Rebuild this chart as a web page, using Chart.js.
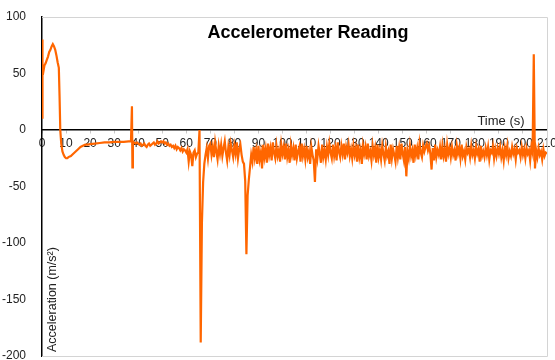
<!DOCTYPE html>
<html>
<head>
<meta charset="utf-8">
<script src="https://cdn.jsdelivr.net/npm/chart.js@4.4.1/dist/chart.umd.min.js"></script>
<style>
  html, body { margin: 0; padding: 0; background: #fff; }
  #wrap { width: 555px; height: 360px; }
</style>
</head>
<body>
<div id="wrap"><canvas id="chart" width="555" height="360"></canvas></div>
<script>
// start-up part of the recording, irregular times (s) and acceleration (m/s²)
const earlyTimes = [0, 0.1, 0.3, 0.6, 1, 1.5, 2, 2.5, 3, 3.5, 4, 4.5, 5, 5.5, 6, 6.5, 7, 7.3, 7.6, 8,
    8.5, 9, 9.5, 10, 10.5, 11, 12, 13, 14, 15, 16, 17, 18, 19, 20, 22, 24, 26, 28, 30,
    32, 34, 36, 37, 37.4, 37.6, 37.8, 38.2, 39, 39.5];
const earlyAccel = [11, 80, 54, 52, 57, 59, 62, 65, 69, 71, 74, 76, 74, 71, 66, 60, 55, 30, 0, -12,
    -19, -22, -24, -25, -25, -24, -23, -21, -19, -17, -15, -14, -13, -13, -12.5, -12, -11.5, -11, -11, -10.5,
    -10.5, -10.5, -10, -10, 21, -33, -10, -11, -12, -11];

// rest of the recording, one sample every 0.5 s from 40 s
const sampleStart = 40;
const sampleStep = 0.5;
const sampleAccel = [
    -12, -13, -12, -14, -13, -12, -14, -15, -13, -12, -14, -13, -12, -11, -13, -12, -10, -12, -11, -10,
    -11, -10, -12, -11, -13, -12, -14, -13, -15, -14, -16, -14, -17, -15, -16, -18, -16, -19, -17, -18,
    -20, -17, -28, -19, -22, -32, -20, -18, -24, -21, -20, 0, -188, -82, -46, -30, -22, -16, -25, -14,
    -12, -22, -15, -24, -11, -19, -26, -14, -21, -13, -23, -16, -10, -20, -27, -15, -22, -12, -18, -24,
    -14, -21, -11, -25, -17, -13, -22, -28, -30, -45, -110, -58, -44, -33, -22, -28, -15, -25, -18, -30,
    -14, -26, -20, -34, -13, -24, -17, -29, -12, -22, -16, -27, -11, -20, -25, -14, -23, -18, -28, -13,
    -21, -15, -26, -12, -24, -18, -29, -14, -22, -16, -27, -13, -25, -19, -15, -28, -12, -23, -17, -26,
    -14, -24, -19, -30, -15, -22, -27, -46, -17, -25, -14, -21, -29, -13, -24, -18, -26, -15, -22, -12,
    -20, -25, -13, -23, -16, -27, -11, -19, -24, -14, -21, -12, -26, -15, -20, -13, -23, -17, -25, -14,
    -22, -16, -28, -13, -24, -18, -30, -14, -21, -15, -26, -12, -23, -19, -27, -14, -22, -16, -29, -13,
    -24, -18, -26, -14, -21, -27, -15, -23, -19, -30, -13, -25, -17, -22, -28, -14, -24, -16, -26, -12,
    -21, -27, -15, -41, -19, -25, -14, -23, -18, -29, -13, -22, -16, -26, -12, -20, -24, -14, -19, -15,
    -12, -18, -14, -21, -35, -16, -27, -13, -24, -18, -22, -15, -26, -14, -23, -17, -28, -13, -21, -16,
    -24, -15, -22, -18, -27, -14, -21, -16, -25, -13, -23, -19, -26, -15, -20, -17, -24, -14, -22, -18,
    -25, -15, -21, -17, -28, -14, -23, -19, -24, -16, -22, -15, -26, -18, -20, -14, -25, -17, -23, -16,
    -21, -15, -24, -18, -27, -16, -22, -14, -25, -19, -23, -15, -21, -17, -26, -16, -20, -18, -24, -15,
    -22, -17, -25, -16, -21, -18, -27, -15, -20, 67, -34, -18, -24, -16, -22, -19, -26, -17, -23, -20,
    -21
];

const yTicks = [-200, -150, -100, -50, 0, 50, 100];
const xTicks = [0, 10, 20, 30, 40, 50, 60, 70, 80, 90, 100, 110, 120, 130, 140, 150, 160, 170, 180, 190, 200, 210];

const FONT = "'Liberation Sans', Arial, sans-serif";
// wanted plot area, in canvas pixels
const AREA = { left: 42, top: 17, right: 547, bottom: 356 };

function build_points() {
    const pts = earlyTimes.map((t, i) => ({ x: t, y: earlyAccel[i] }));
    sampleAccel.forEach((v, i) => pts.push({ x: sampleStart + i * sampleStep, y: v }));
    return pts;
}

// no label overflow padding, so the layout padding alone sets the plot area
function no_overflow(s) {
    s.paddingLeft = 0;
    s.paddingRight = 0;
    s.paddingTop = 0;
    s.paddingBottom = 0;
}

// frame lines and the free-standing labels, like the Excel plot area
const decorations = {
    id: 'decorations',
    beforeDatasetsDraw(chart) {
        const { ctx, chartArea: a } = chart;
        ctx.save();
        ctx.lineWidth = 1;
        ctx.strokeStyle = '#d4d4d4';
        ctx.beginPath();
        ctx.moveTo(a.left, a.top + 0.5);
        ctx.lineTo(a.right + 0.5, a.top + 0.5);
        ctx.lineTo(a.right + 0.5, a.bottom + 0.5);
        ctx.lineTo(a.left, a.bottom + 0.5);
        ctx.stroke();
        ctx.restore();
    },
    afterDraw(chart) {
        const { ctx } = chart;
        ctx.save();
        ctx.fillStyle = '#000';
        ctx.textAlign = 'center';
        ctx.textBaseline = 'middle';
        ctx.font = 'bold 18px ' + FONT;
        ctx.fillText('Accelerometer Reading', 308, 33);

        ctx.fillStyle = '#222';
        ctx.font = '13px ' + FONT;
        ctx.fillText('Time (s)', 501, 121);

        ctx.translate(53, 352);
        ctx.rotate(-Math.PI / 2);
        ctx.textAlign = 'left';
        ctx.font = '12.5px ' + FONT;
        ctx.fillText('Acceleration (m/s²)', 0, 0);
        ctx.restore();
    }
};

const chart = new Chart(document.getElementById('chart'), {
    type: 'line',
    data: {
        datasets: [{
            data: build_points(),
            borderColor: '#FF6600',
            borderWidth: 2.2,
            pointRadius: 0,
            tension: 0,
            fill: false
        }]
    },
    options: {
        responsive: false,
        animation: false,
        layout: { padding: { top: AREA.top, right: 555 - AREA.right, bottom: 360 - AREA.bottom, left: 0 } },
        plugins: { legend: { display: false }, tooltip: { enabled: false } },
        scales: {
            x: {
                type: 'linear',
                min: 0,
                max: 210,
                position: { y: 0 },
                afterBuildTicks: s => { s.ticks = xTicks.map(v => ({ value: v })); },
                afterFit: s => { s.height = 0; no_overflow(s); },
                ticks: { color: '#222', font: { family: FONT, size: 12 }, padding: 3, maxRotation: 0, autoSkip: false },
                grid: { drawOnChartArea: false, tickLength: 3, color: '#c8c8c8' },
                border: { color: '#000', width: 1.5 }
            },
            y: {
                min: -200,
                max: 100,
                afterBuildTicks: s => { s.ticks = yTicks.map(v => ({ value: v })); },
                afterFit: s => { s.width = AREA.left; no_overflow(s); },
                ticks: { color: '#222', font: { family: FONT, size: 12 }, padding: 8 },
                grid: { display: false },
                border: { color: '#000', width: 1.5 }
            }
        }
    },
    plugins: [decorations]
});

// correct any space the layout still took, a couple of passes
for (let pass = 0; pass < 3; pass++) {
    const a = chart.chartArea;
    const pad = chart.options.layout.padding;
    const dt = AREA.top - a.top, db = a.bottom - AREA.bottom, dr = a.right - AREA.right;
    if (!dt && !db && !dr) break;
    pad.top += dt;
    pad.bottom += db;
    pad.right += dr;
    chart.update();
}
</script>
</body>
</html>
